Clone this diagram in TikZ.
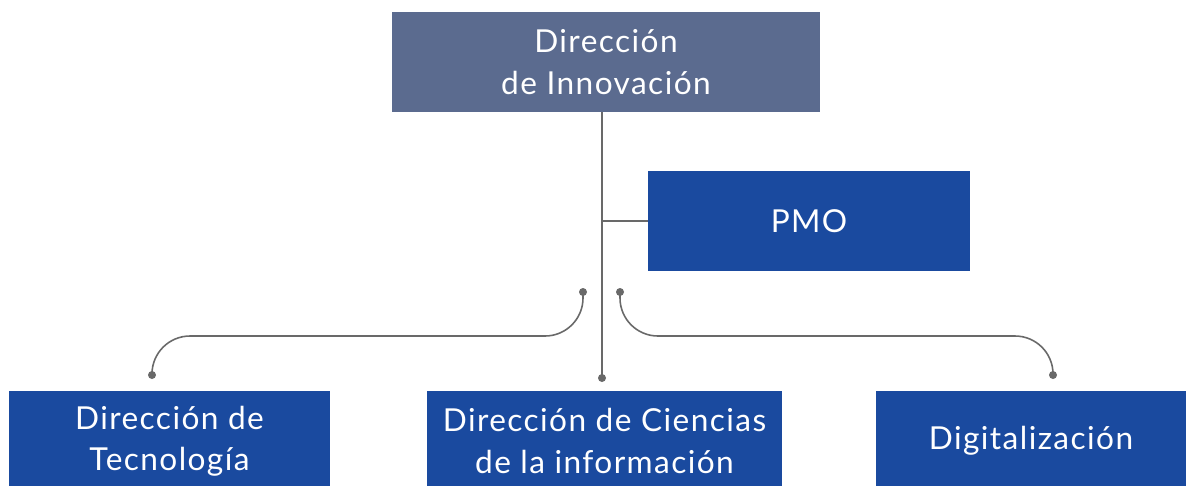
\documentclass[tikz,border=0pt]{standalone}
\usepackage{fontspec}
\setmainfont{Lato}[LetterSpace=4.5]
\usepackage{tikz}
\usetikzlibrary{positioning,calc}
\definecolor{INNOVslate}{RGB}{91,107,143}
\definecolor{INNOVblue}{RGB}{26,74,159}
\definecolor{INNOVline}{RGB}{105,105,105}

\tikzset{
  box/.style={fill=INNOVblue, text=white, minimum height=2cm, inner sep=0pt,
    align=center, font=\fontsize{18}{23.5}\selectfont},
  link/.style={draw=INNOVline, line width=0.9pt},
  dot/.style={circle, fill=INNOVline, inner sep=0pt, minimum size=0.16cm},
}

\begin{document}
\begin{tikzpicture}[x=0.02cm, y=-0.02cm]
    \clip (0,0) rectangle (1186,485);
    \fill[white] (0,0) rectangle (1186,485);

    % boxes
    \node[box, fill=INNOVslate, minimum width=8.56cm] (innov) at (606,62) {Dirección\\de Innovación};
    \node[box, minimum width=6.44cm] (pmo) at (809,221) {PMO};
    \node[box, minimum width=6.42cm] (tecno) at (169.5,441) {Dirección de\\Tecnología};
    \node[box, minimum width=7.1cm] (ciencias) at (604.5,441) {Dirección de Ciencias\\de la información};
    \node[box, minimum width=6.2cm] (digital) at (1031,441) {Digitalización};

    % trunk
    \coordinate (trunk) at (602,378);
    \draw[link] (innov.south -| trunk) -- (trunk);
    \draw[link] (trunk |- pmo.west) -- (pmo.west);
    \node[dot] at (trunk) {};

    % curved branches
    \coordinate (lstart) at (583,292);
    \coordinate (lend) at (152,375);
    \coordinate (rstart) at (620,292);
    \coordinate (rend) at (1053,375);
    \draw[link, rounded corners=0.76cm] (lstart) -- (lstart |- 0,336) -- (lend |- 0,336) -- (lend);
    \draw[link, rounded corners=0.76cm] (rstart) -- (rstart |- 0,336) -- (rend |- 0,336) -- (rend);
    \foreach \p in {lstart,lend,rstart,rend}
        \node[dot] at (\p) {};
\end{tikzpicture}
\end{document}
